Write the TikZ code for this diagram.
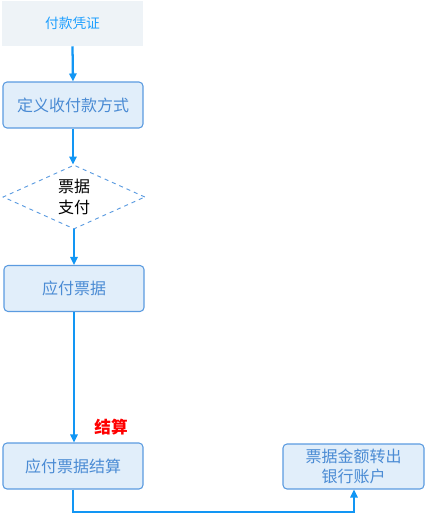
\documentclass[tikz,border=0pt]{standalone}
\usepackage{fontspec}
\setmainfont{Noto Sans CJK SC}
\usetikzlibrary{shapes.geometric,arrows.meta}
\definecolor{boxfill}{HTML}{E1EEFA}
\definecolor{boxdraw}{HTML}{5B9BE0}
\definecolor{boxtext}{HTML}{4A8BD4}
\definecolor{toptext}{HTML}{1E9FFF}
\definecolor{topfill}{HTML}{EEF3F7}
\definecolor{arrowc}{HTML}{1296F4}
\begin{document}
\begin{tikzpicture}[x=0.75pt,y=-0.75pt,
  procbox/.style={draw=boxdraw,fill=boxfill,rounded corners=3pt,line width=0.8pt,
    minimum width=140*0.75pt,minimum height=46*0.75pt,inner sep=0pt,
    text=boxtext,font=\fontsize{12pt}{14.5pt}\selectfont,align=center},
  conn/.style={draw=arrowc,line width=1.7pt,-{Triangle[length=6pt,width=5.5pt]}}]
\useasboundingbox (0,0) rectangle (428,517);
\node[fill=topfill,minimum width=141*0.75pt,minimum height=45*0.75pt,inner sep=0pt,
  text=toptext,font=\fontsize{10.3pt}{12pt}\selectfont] (pz) at (72.5,23.5) {付款凭证};
\node[procbox] (dy) at (73,105) {定义收付款方式};
\node[diamond,draw=boxdraw,dashed,line width=0.7pt,aspect=2.2,
  minimum width=142*0.75pt,minimum height=64*0.75pt,inner sep=0pt,
  font=\fontsize{12pt}{16pt}\selectfont,align=center] (pj) at (74,197) {票据\\支付};
\node[procbox] (yf) at (74,288.5) {应付票据};
\node[procbox] (js) at (73,466) {应付票据结算};
\node[procbox,minimum width=141*0.75pt,minimum height=45*0.75pt] (zc) at (353.5,466.5) {票据金额转出\\银行账户};
\node[text=red,font=\bfseries\fontsize{12.5pt}{14pt}\selectfont] (lb) at (111,427) {结算};
\draw[conn] (pz.south) -- (dy.north);
\draw[conn] (dy.south) -- (dy.south |- pj.north);
\draw[conn] (pj.south) -- (pj.south |- yf.north);
\draw[conn] (yf.south) -- (yf.south |- js.north);
\coordinate (c1) at (73,512);
\coordinate (c2) at (354,512);
\draw[conn] (js.south) -- (c1) -- (c2) -- (c2 |- zc.south);
\end{tikzpicture}
\end{document}
